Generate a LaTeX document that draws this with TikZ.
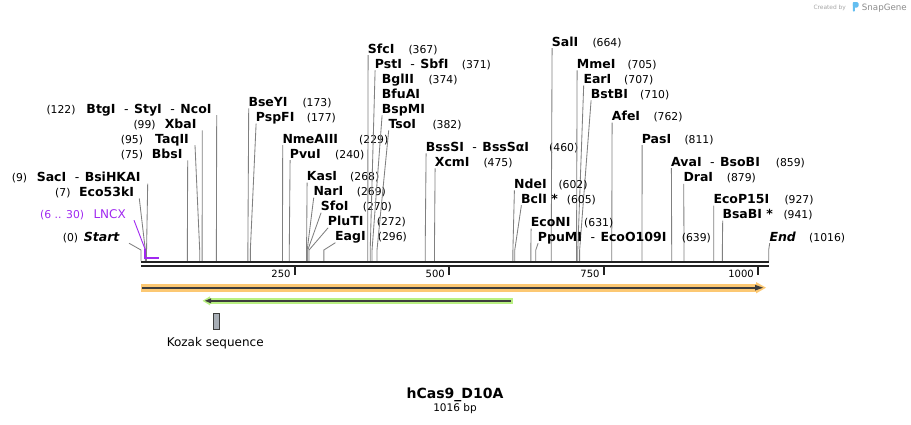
\documentclass[tikz,border=0pt]{standalone}
\usepackage{fontspec}
\setmainfont{DejaVu Sans}
\definecolor{enzc}{RGB}{128,128,128}
\definecolor{barc}{RGB}{34,34,34}
\definecolor{lncxc}{RGB}{160,40,240}
\definecolor{orglow}{RGB}{252,200,115}
\definecolor{grglow}{RGB}{185,240,130}
\definecolor{featline}{RGB}{60,60,60}
\definecolor{kozakc}{RGB}{168,174,182}
\definecolor{logoc}{RGB}{100,190,240}
\tikzset{
  nm/.style={inner sep=0pt, font=\fontsize{12.5}{14}\selectfont\bfseries},
  nb/.style={inner sep=0pt, font=\fontsize{10.8}{13}\selectfont},
  enz/.style={draw=enzc, line width=0.85pt},
  tickl/.style={inner sep=0pt, font=\fontsize{10}{12}\selectfont},
}
\newcommand\hy{\hspace{8.5pt}{\mdseries -}\hspace{5.5pt}}
% right-side label: id, name, x, ycenter, number, number x, bp
\newcommand\enzR[7]{%
  \node[nm, anchor=base west] (#1) at (#3,#4+4.5) {#2};
  \node[nb, anchor=base west] (#1n) at (#6,#4+4.5) {#5};
  \coordinate (#1s) at ({141+0.6178*#7},261);
  \draw[enz] ([xshift=0.4pt,yshift=-2pt]#1.base west) -- ([yshift=11pt]#1s) -- (#1s);
}
% left-side label: id, name, name end x, ycenter, number, number x, gap, bp
\newcommand\enzL[8]{%
  \node[nm, anchor=base east] (#1) at (#3,#4+4.5) {#2};
  \node[nb, anchor=base west] (#1n) at (#6,#4+4.5) {#5};
  \coordinate (#1s) at ({141+0.6178*#8},261);
  \draw[enz] ([xshift=#7pt,yshift=-2pt]#1.base east) -- ([yshift=11pt]#1s) -- (#1s);
}
\begin{document}
\begin{tikzpicture}[x=1pt,y=-1pt]
\path[use as bounding box] (0,0) rectangle (911,424);

% ---- right-side enzymes
\enzR{BseYI}{BseYI}{248.3}{101.8}{(173)}{302.3}{173}
\enzR{PspFI}{PspFI}{255.7}{117.2}{(177)}{306.7}{177}
\enzR{NmeAIII}{NmeAIII}{282.3}{138.7}{(229)}{359}{229}
\enzR{PvuI}{PvuI}{289.7}{153.7}{(240)}{335}{240}
\enzR{KasI}{KasI}{306.7}{176.2}{(268)}{350}{268}
\enzR{NarI}{NarI}{313.3}{191.2}{(269)}{356.7}{269}
\enzR{SfoI}{SfoI}{320.7}{206.2}{(270)}{362.7}{270}
\enzR{PluTI}{PluTI}{327.7}{221.3}{(272)}{376.7}{272}
\enzR{EagI}{EagI}{335}{236.2}{(296)}{377.7}{296}
\enzR{SfcI}{SfcI}{367.7}{48.7}{(367)}{408.3}{367}
\enzR{PstI}{PstI\hy SbfI}{374.7}{63.8}{(371)}{461.7}{371}
\node[nm, anchor=base west] (BglII) at (381.7,78.8+4.5) {BglII};
\node[nb, anchor=base west] (BglIIn) at (428.3,78.8+4.5) {(374)};
\node[nm, anchor=base west] (BfuAI) at (381.7,93.8+4.5) {BfuAI};
\node[nm, anchor=base west] (BspMI) at (381.7,108.8+4.5) {BspMI};
\coordinate (BspMIs) at ({141+0.6178*374},261);
\draw[enz] ([xshift=0.4pt,yshift=-2pt]BspMI.base west) -- ([yshift=11pt]BspMIs) -- (BspMIs);
\enzR{TsoI}{TsoI}{388.3}{123.8}{(382)}{432.3}{382}
\enzR{BssSI}{BssSI\hy BssSαI}{425.7}{146.8}{(460)}{549}{460}
\enzR{XcmI}{XcmI}{434.7}{161.8}{(475)}{483.3}{475}
\enzR{SalI}{SalI}{551.7}{41.7}{(664)}{592.3}{664}
\enzR{MmeI}{MmeI}{576.7}{63.8}{(705)}{627.3}{705}
\enzR{EarI}{EarI}{583.3}{78.8}{(707)}{624}{707}
\enzR{BstBI}{BstBI}{590.7}{93.8}{(710)}{640}{710}
\enzR{AfeI}{AfeI}{611.7}{116.2}{(762)}{653.3}{762}
\enzR{PasI}{PasI}{641.7}{138.7}{(811)}{684.3}{811}
\enzR{AvaI}{AvaI\hy BsoBI}{671}{161.7}{(859)}{775.7}{859}
\enzR{DraI}{DraI}{683.3}{177.3}{(879)}{726.7}{879}
\enzR{EcoPI}{EcoP15I}{713.3}{199}{(927)}{784.3}{927}
\enzR{BsaBI}{BsaBI *}{722.3}{214}{(941)}{783.3}{941}
\enzR{NdeI}{NdeI}{514}{183.8}{(602)}{558.3}{602}
\enzR{BclI}{BclI *}{521}{198.8}{(605)}{566.7}{605}
\enzR{EcoNI}{EcoNI}{530.7}{222}{(631)}{584}{631}
\enzR{PpuMI}{PpuMI\hy EcoO109I}{537.7}{236.7}{(639)}{681.7}{639}
\enzR{End}{\textit{End}}{769.3}{236.7}{(1016)}{809}{1016}

% ---- left-side enzymes
\enzL{BtgI}{BtgI\hy StyI\hy NcoI}{211.7}{108.7}{(122)}{46.3}{5}{122}
\enzL{XbaI}{XbaI}{196.7}{123.8}{(99)}{133.3}{5.5}{99}
\enzL{TaqII}{TaqII}{189}{138.7}{(95)}{120.7}{6}{95}
\enzL{BbsI}{BbsI}{182.7}{153.8}{(75)}{120.7}{5}{75}
\enzL{SacI}{SacI\hy BsiHKAI}{140.7}{177.2}{(9)}{11.7}{7}{9}
\enzL{Ecok}{Eco53kI}{134.3}{192}{(7)}{55}{5}{7}
\enzL{Start}{\textit{Start}}{120}{236.7}{(0)}{62.7}{9}{0}

% ---- LNCX feature
\node[nb, text=lncxc, anchor=base east, font=\fontsize{12}{14}\selectfont] (LNCX) at (126,213.8+4.4) {LNCX};
\node[nb, text=lncxc, anchor=base west] (LNCXn) at (40,213.8+4.4) {(6 .. 30)};
\coordinate (lncxA) at (145,249);
\coordinate (lncxB) at (145,257.5);
\coordinate (lncxC) at (159,257.5);
\draw[lncxc, line width=0.9pt] ([xshift=8pt,yshift=-2pt]LNCX.base east) -- (lncxA);
\draw[lncxc, line width=2pt] (lncxA) -- (lncxB) -- (lncxC);

% ---- sequence bar
\draw[barc, line width=2.3pt] (141,262.2) -- (769,262.2);
\draw[barc, line width=2.3pt] (141,266.2) -- (769,266.2);
\foreach \tx/\tl in {294.7/250, 449/500, 603.7/750, 758/1000}{
  \draw[barc, line width=2pt] (\tx,267) -- (\tx,274.5);
  \node[tickl, anchor=base east] at (\tx-4,277.6) {\tl};
}

% ---- orange feature (forward)
\fill[orglow] (141,283.6) rectangle (757,291.8);
\fill[orglow] (756,282) -- (766,287.7) -- (756,293.4) -- cycle;
\draw[featline, line width=2.3pt] (142,287.7) -- (756,287.7);
\fill[featline] (755,284.8) -- (763,287.7) -- (755,290.6) -- cycle;

% ---- green feature (reverse)
\fill[grglow] (209,298) rectangle (513.3,303.6);
\fill[grglow] (210,296.3) -- (202.5,300.8) -- (210,305.3) -- cycle;
\draw[featline, line width=2pt] (511,300.8) -- (210,300.8);
\fill[featline] (211,298.3) -- (205,300.8) -- (211,303.3) -- cycle;

% ---- Kozak
\draw[fill=kozakc, draw=featline, line width=0.8pt] (213.3,313.3) rectangle (219.3,329.3);
\node[inner sep=0pt, anchor=base, font=\fontsize{12}{14}\selectfont] (kozak) at (215.2,346.5) {Kozak sequence};

% ---- title
\node[inner sep=0pt, anchor=base, font=\fontsize{14}{16}\selectfont\bfseries] (title) at (455,398.4) {hCas9\_D10A};
\node[inner sep=0pt, anchor=base, font=\fontsize{10.5}{12}\selectfont] (len) at (455,411.5) {1016 bp};

% ---- watermark
\node[inner sep=0pt, anchor=base west, text=black!35, font=\fontsize{5.9}{7}\selectfont] (created) at (813.3,9.6) {Created by};
\fill[logoc, rounded corners=0.8pt] (852.8,2) rectangle (854.8,11.5);
\fill[logoc, rounded corners=1.5pt] (852.8,2) rectangle (858.6,7.5);
\node[inner sep=0pt, anchor=base west, text=black!45, font=\fontsize{8.7}{10}\selectfont] (snapgene) at (861.7,10.5) {SnapGene};
\end{tikzpicture}
\end{document}
